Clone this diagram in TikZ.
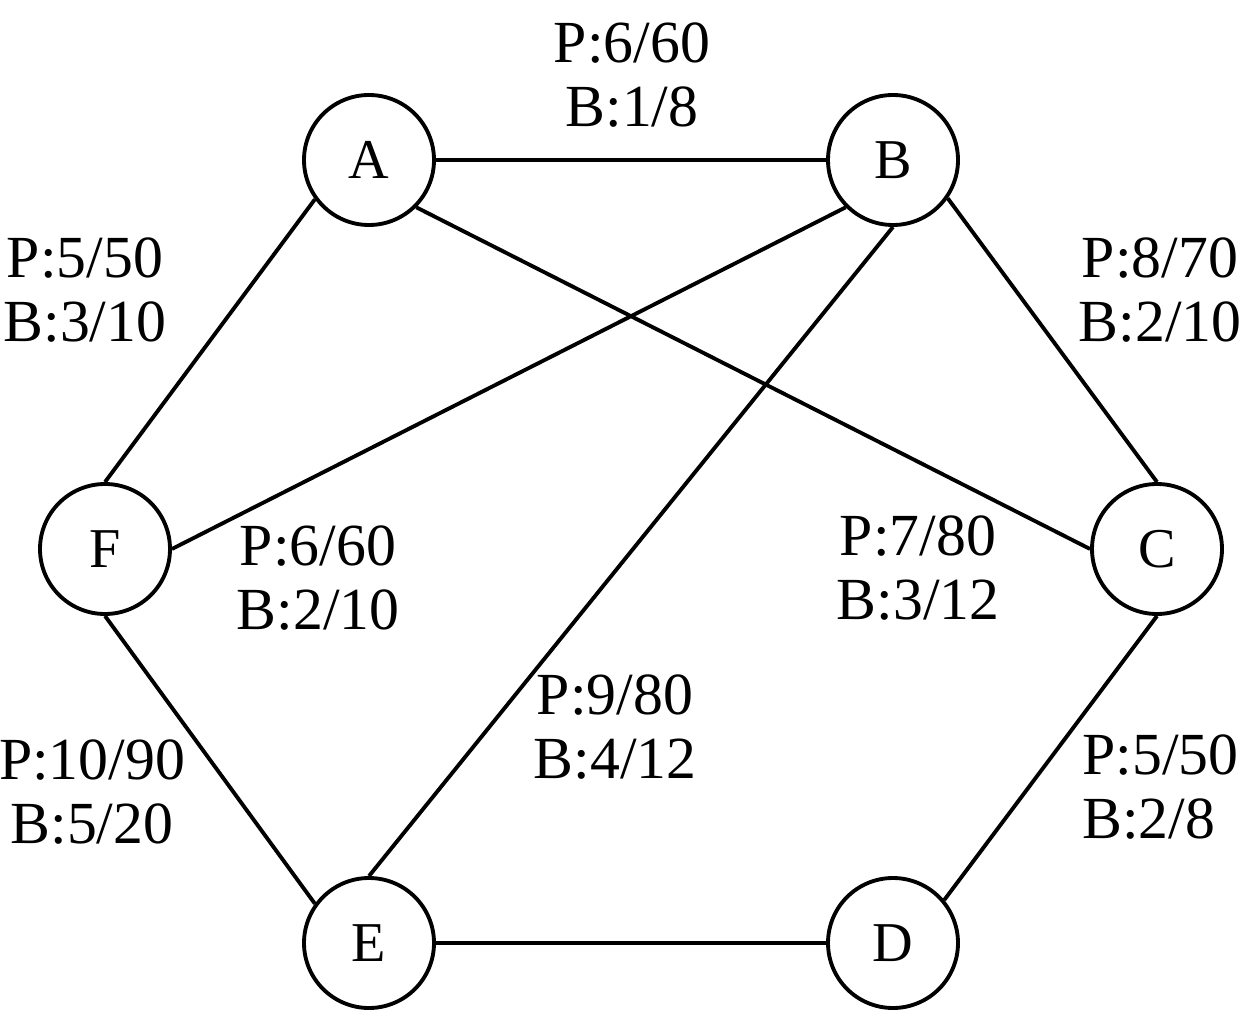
\documentclass[tikz,border=0pt]{standalone}
\usepackage{fontspec}
\setmainfont{Liberation Serif}
\usetikzlibrary{positioning}
\tikzset{
	vertex/.style={draw, circle, line width=2.2pt, minimum size=2.6cm, inner sep=0pt, font=\fontsize{32}{34}\selectfont},
	edge/.style={line width=2.2pt},
	wlabel/.style={align=center, inner sep=0pt, font=\fontsize{34}{36}\selectfont}
}
\begin{document}
\begin{tikzpicture}
		\useasboundingbox (0,0) rectangle (24.88,20.28);
		%结点
		\node[vertex] (A) at (7.38,17.08) {A};
		\node[vertex] (B) at (17.86,17.08) {B};
		\node[vertex] (C) at (23.14,9.30) {C};
		\node[vertex] (D) at (17.86,1.42) {D};
		\node[vertex] (E) at (7.38,1.42) {E};
		\node[vertex] (F) at (2.10,9.30) {F};
		%边
		\draw[edge] (A.east) -- (B.west);
		\draw[edge] (B.-35) -- (C.north);
		\draw[edge] (C.south) -- (D.40);
		\draw[edge] (D.west) -- (E.east);
		\draw[edge] (E.144) -- (F.south);
		\draw[edge] (F.north) -- (A.216);
		\draw[edge] (A.315) -- (C.west);
		\draw[edge] (B.225) -- (F.east);
		\draw[edge] (B.south) -- (E.north);
		%权值
		\node[wlabel] (lAB) at (12.64,18.78) {P:6/60\\B:1/8};
		\node[wlabel] (lAF) at (1.70,14.48) {P:5/50\\B:3/10};
		\node[wlabel] (lBC) at (23.20,14.48) {P:8/70\\B:2/10};
		\node[wlabel] (lBF) at (6.36,8.72) {P:6/60\\B:2/10};
		\node[wlabel] (lAC) at (18.36,8.92) {P:7/80\\B:3/12};
		\node[wlabel] (lBE) at (12.30,5.74) {P:9/80\\B:4/12};
		\node[wlabel] (lEF) at (1.84,4.44) {P:10/90\\B:5/20};
		\node[wlabel, align=left, anchor=west] (lCD) at (21.64,4.54) {P:5/50\\B:2/8};
	\end{tikzpicture}
\end{document}
